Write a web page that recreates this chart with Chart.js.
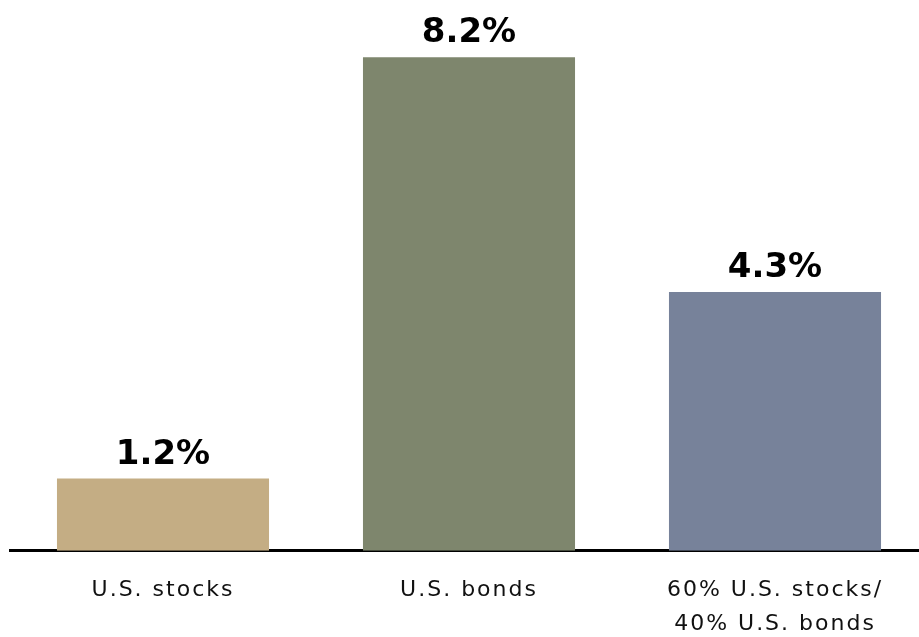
<!DOCTYPE html>
<html>
<head>
<meta charset="utf-8">
<script src="https://cdn.jsdelivr.net/npm/chart.js@4"></script>
<style>
  html, body { margin: 0; padding: 0; background: #fff; overflow: hidden; }
  #wrap { width: 928px; height: 637px; position: relative; }
</style>
</head>
<body>
<div id="wrap"><canvas id="chart"></canvas></div>
<script>
const categorias = ["U.S. stocks", "U.S. bonds", ["60% U.S. stocks/", "40% U.S. bonds"]];
const valores = [1.2, 8.2, 4.3];
const colores = ["#C4AD84", "#7E866D", "#77829A"];

// etiquetas encima de cada barra
const etiquetasBarras = {
  id: "etiquetasBarras",
  afterDatasetsDraw(chart) {
    const ctx = chart.ctx;
    const meta = chart.getDatasetMeta(0);
    ctx.save();
    ctx.letterSpacing = "0px";
    ctx.font = "bold 34px 'DejaVu Sans'";
    ctx.fillStyle = "#000";
    ctx.textAlign = "center";
    ctx.textBaseline = "alphabetic";
    meta.data.forEach((bar, i) => {
      ctx.fillText(valores[i].toFixed(1) + "%", bar.x, bar.y - 15);
    });
    ctx.restore();
  }
};

// espaciado de letras en las etiquetas del eje
const espaciado = {
  id: "espaciado",
  beforeDraw(chart) { chart.ctx.letterSpacing = "2px"; },
  afterDraw(chart) { chart.ctx.letterSpacing = "0px"; }
};

new Chart(document.getElementById("chart"), {
  type: "bar",
  data: {
    labels: categorias,
    datasets: [{
      data: valores,
      backgroundColor: colores,
      borderWidth: 0,
      barPercentage: 0.693,
      categoryPercentage: 1
    }]
  },
  options: {
    responsive: true,
    maintainAspectRatio: false,
    animation: false,
    layout: { padding: { left: 10, right: 0, top: 9, bottom: -26 } },
    plugins: {
      legend: { display: false },
      tooltip: { enabled: false }
    },
    scales: {
      x: {
        grid: { display: false, drawTicks: false },
        border: { display: true, color: "#000", width: 3 },
        ticks: {
          color: "#111",
          font: { family: "'DejaVu Sans'", size: 22, lineHeight: 1.55 },
          padding: 22,
          maxRotation: 0
        }
      },
      y: {
        display: false,
        min: 0,
        max: 9
      }
    }
  },
  plugins: [etiquetasBarras, espaciado]
});
</script>
</body>
</html>
